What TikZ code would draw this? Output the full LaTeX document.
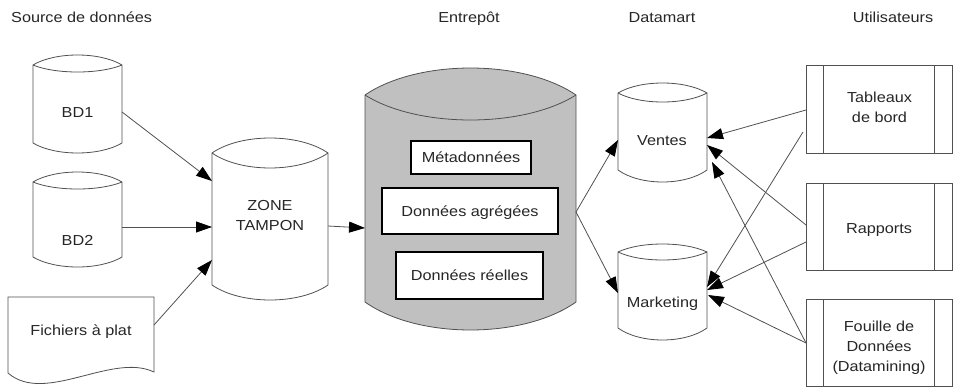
\documentclass[tikz,border=0pt]{standalone}
\usepackage{fontspec}
\setmainfont{Liberation Sans}[FakeStretch=1.12]
\usetikzlibrary{arrows.meta,calc}
\definecolor{entgray}{HTML}{C0C0C0}
\definecolor{lncol}{HTML}{505050}
\definecolor{txcol}{HTML}{262626}
\newcommand\cylshape[5][]{%
  \path[#1] let \p1=(#2.north west), \p2=(#2.south east), \n1={\x2-\x1} in
    (\p1) .. controls +({0.25*\n1},{-1.333*#3}) and +({-0.25*\n1},{-1.333*#3}) .. (\x2,\y1)
    -- (\p2) .. controls +({-0.25*\n1},{1.333*#5}) and +({0.25*\n1},{1.333*#5}) .. (\x1,\y2)
    -- cycle;
  \path[#1,fill=none] let \p1=(#2.north west), \p2=(#2.south east), \n1={\x2-\x1} in
    (\p1) .. controls +({0.25*\n1},{1.333*#4}) and +({-0.25*\n1},{1.333*#4}) .. (\x2,\y1);
}
\begin{document}
\begin{tikzpicture}[x=1pt,y=-1pt,
  txt/.style={font=\fontsize{14.5}{20}\selectfont, text=txcol, align=center, inner sep=0pt},
  body/.style={inner sep=0pt, outer sep=0pt, rectangle},
  shp/.style={draw=lncol, line width=0.8pt},
  conn/.style={draw=lncol, line width=0.8pt, -{Triangle[length=16pt,width=11pt,color=black]}},
  inbox/.style={draw=black, line width=1.3pt, fill=white, inner sep=0pt,
    text height=10.6pt, text depth=0pt, font=\fontsize{14.5}{20}\selectfont, text=txcol},
  subbox/.style={body, shp, fill=white},
  ]
\useasboundingbox (0,0) rectangle (953,388);

% titles
\node[txt, anchor=base west] (t1) at (11,23) {Source de données};
\node[txt, anchor=base] (t2) at (469,23) {Entrepôt};
\node[txt, anchor=base] (t3) at (662,23) {Datamart};
\node[txt, anchor=base] (t4) at (893,23) {Utilisateurs};

% sources
\node[body, minimum width=89, minimum height=78] (bd1) at (77.5,104) {};
\cylshape[shp, fill=white]{bd1}{10}{7}{10}
\node[txt, anchor=base] (bd1t) at (77.5,117) {BD1};

\node[body, minimum width=89, minimum height=75] (bd2) at (77.5,219.5) {};
\cylshape[shp, fill=white]{bd2}{10}{7}{10}
\node[txt, anchor=base] (bd2t) at (77.5,245) {BD2};

\node[body, minimum width=146, minimum height=76] (fic) at (81,335) {};
\draw[shp, fill=white] (fic.north west) -- (fic.north east) -- ($(fic.south east)+(0,-1)$)
  .. controls +(-42,-20) and +(37,32) .. (fic.south west) -- cycle;
\node[txt, anchor=base] (fict) at (81,335) {Fichiers à plat};

% zone tampon
\node[body, minimum width=116, minimum height=132] (zone) at (270,219) {};
\cylshape[shp, fill=white]{zone}{15}{15}{15}
\node[txt] (zonet) at (270,215.2) {ZONE\\TAMPON};

% entrepot
\node[body, minimum width=211, minimum height=207] (ent) at (470.5,198.5) {};
\cylshape[shp, fill=entgray]{ent}{27}{25}{28}
\node[inbox, minimum width=120, minimum height=33] (meta) at (471,157.5) {Métadonnées};
\node[inbox, minimum width=176, minimum height=46] (agr) at (470,211) {Données agrégées};
\node[inbox, minimum width=147, minimum height=47] (ree) at (469.5,275.5) {Données réelles};

% datamart
\node[body, minimum width=89, minimum height=77] (ven) at (662.5,131.5) {};
\cylshape[shp, fill=white]{ven}{10}{9}{12}
\node[txt, anchor=base] (vent) at (662,145) {Ventes};

\node[body, minimum width=89, minimum height=76] (mkt) at (662.5,290) {};
\cylshape[shp, fill=white]{mkt}{8}{8}{12}
\node[txt, anchor=base] (mktt) at (662.5,307) {Marketing};

% utilisateurs
\node[subbox, minimum width=146, minimum height=88] (tab) at (879,109) {};
\node[subbox, minimum width=146, minimum height=87] (rap) at (879,226.5) {};
\node[subbox, minimum width=146, minimum height=87] (fou) at (879,342.5) {};
\foreach \b in {tab,rap,fou}{
  \draw[shp] ($(\b.north west)+(17,0)$) -- ($(\b.south west)+(17,0)$)
             ($(\b.north east)+(-18,0)$) -- ($(\b.south east)+(-18,0)$);
}
\node[txt] (tabt) at (879.5,107.7) {Tableaux\\de bord};
\node[txt, anchor=base] (rapt) at (879,233) {Rapports};
\node[txt] (fout) at (879,348.2) {Fouille de\\Données\\(Datamining)};

% connectors
\draw[conn] ($(bd1.east)+(0,8)$) -- ($(zone.west)+(0,-38)$);
\draw[conn] ($(bd2.east)+(0,7.5)$) -- ($(zone.west)+(0,8)$);
\draw[conn] ($(fic.east)+(0,-10)$) -- ($(zone.west)+(0,41)$);
\draw[conn] ($(zone.east)+(0,7)$) -- ($(ent.west)+(0,29.5)$);
\draw[conn] ($(ent.east)+(0,13.5)$) -- ($(ven.west)+(0,8.5)$);
\draw[conn] ($(ent.east)+(0,13.5)$) -- ($(mkt.west)+(0,3)$);

\draw[conn] ($(tab.west)+(0,1)$) -- ($(ven.east)+(0,6.5)$);
\draw[conn] ($(tab.west)+(-3,23)$) -- ($(mkt.east)+(0,-3)$);
\draw[conn] ($(rap.west)+(0,-1.5)$) -- ($(ven.east)+(0,13.5)$);
\draw[conn] ($(rap.west)+(0,15.5)$) -- ($(mkt.east)+(0,0)$);
\draw[conn] ($(fou.west)+(0,0.5)$) -- ($(ven.east)+(5,30.5)$);
\draw[conn] ($(fou.west)+(0,0.5)$) -- ($(mkt.east)+(1,5)$);
\end{tikzpicture}
\end{document}
